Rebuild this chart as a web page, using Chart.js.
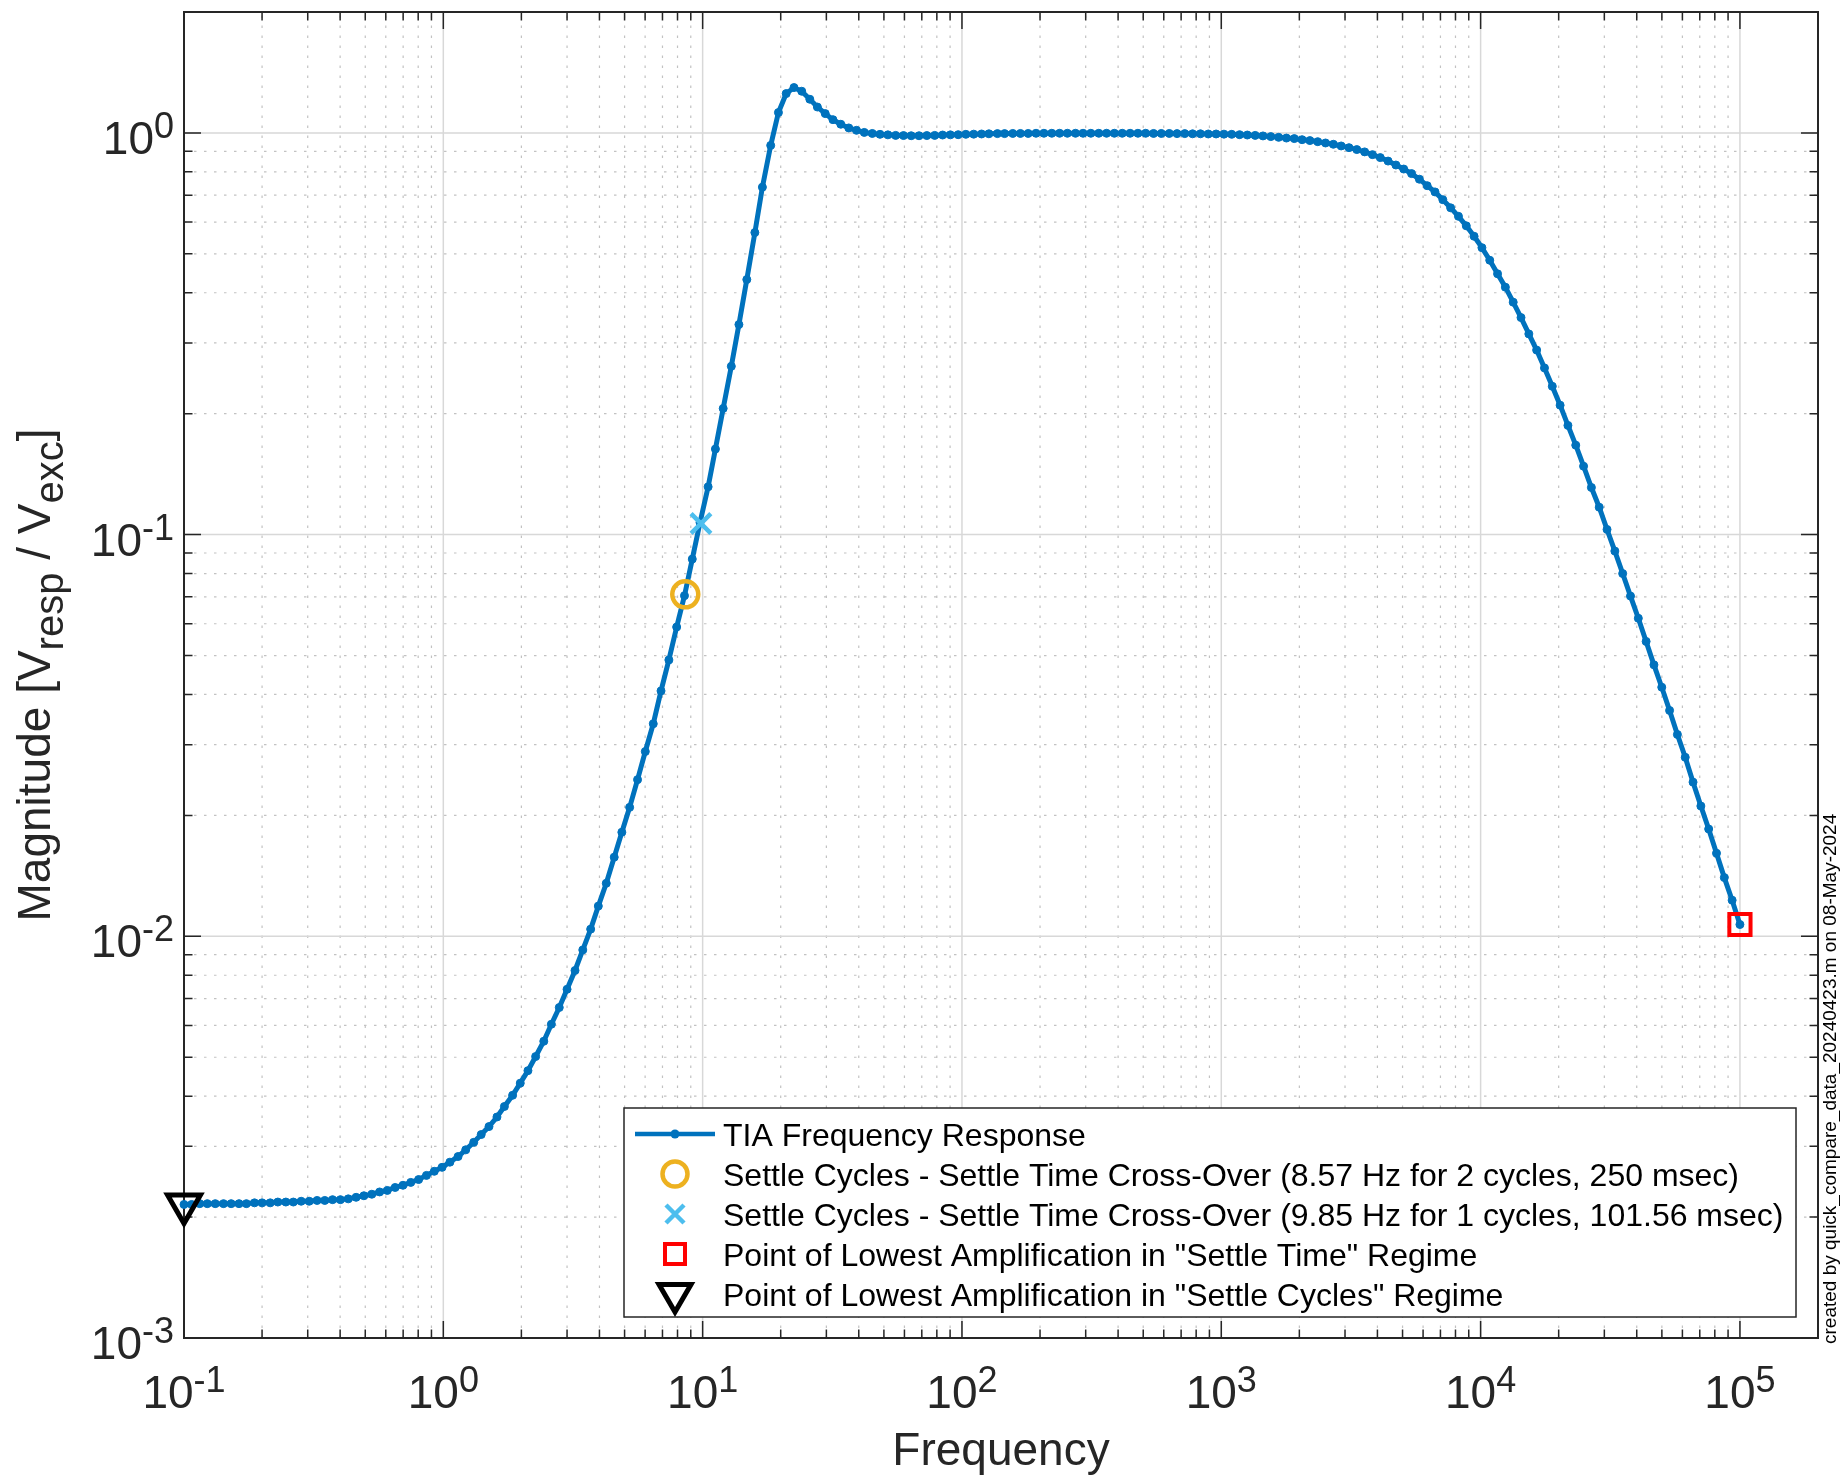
<!DOCTYPE html>
<html>
<head>
<meta charset="utf-8">
<script src="https://cdn.jsdelivr.net/npm/chart.js@4.4.1/dist/chart.umd.min.js"></script>
<style>
  body{margin:0;background:#fff;}
</style>
</head>
<body>
<canvas id="myChart" width="1840" height="1475"></canvas>
<script>
// frequency grid (Hz)
const freq=[
  0.1,0.107,0.115,0.123,0.132,0.142,0.152,0.163,0.174,0.187,
  0.2,0.215,0.23,0.247,0.264,0.283,0.304,0.326,0.349,0.374,
  0.401,0.43,0.461,0.494,0.53,0.568,0.608,0.652,0.699,0.749,
  0.803,0.861,0.923,0.989,1.06,1.14,1.22,1.31,1.4,1.5,
  1.61,1.72,1.85,1.98,2.12,2.27,2.44,2.61,2.8,3.0,
  3.22,3.45,3.7,3.96,4.25,4.56,4.88,5.23,5.61,6.01,
  6.45,6.91,7.41,7.94,8.51,9.12,9.77,10.5,11.2,12.0,
  12.9,13.8,14.8,15.9,17.0,18.3,19.6,21.0,22.5,24.1,
  25.9,27.7,29.7,31.8,34.1,36.6,39.2,42.0,45.1,48.3,
  51.8,55.5,59.5,63.7,68.3,73.2,78.5,84.2,90.2,96.7,
  103.5,111,119,127,137,146,157,168,180,193,
  207,222,238,255,274,293,314,337,361,387,
  415,445,477,511,548,587,630,675,723,775,
  831,891,955,1024,1097,1176,1260,1351,1448,1552,
  1664,1783,1912,2049,2196,2354,2523,2705,2899,3108,
  3331,3571,3827,4102,4397,4713,5052,5416,5805,6222,
  6670,7149,7663,8214,8805,9438,10117,10844,11623,12459,
  13355,14315,15344,16447,17630,18898,20257,21713,23274,24948,
  26742,28665,30726,32935,35303,37842,40563,43473,46599,49950,
  53541,57391,61518,65941,70683,75765,81213,87045,93304,100000
];
// magnitude Vresp/Vexc
const magnitude=[
  0.00215,0.00215,0.00216,0.00216,0.00216,0.00216,0.00216,0.00216,0.00216,0.00217,
  0.00217,0.00217,0.00218,0.00218,0.00218,0.00219,0.00219,0.00220,0.00220,0.00221,
  0.00221,0.00222,0.00224,0.00226,0.00228,0.00231,0.00233,0.00237,0.00240,0.00244,
  0.00248,0.00254,0.00260,0.00266,0.00274,0.00283,0.00294,0.00307,0.00321,0.00336,
  0.00355,0.00377,0.00402,0.00431,0.00463,0.00502,0.00548,0.00604,0.00665,0.00738,
  0.00822,0.00925,0.01042,0.01189,0.01355,0.01574,0.01816,0.02094,0.02455,0.02884,
  0.03381,0.04083,0.04875,0.05888,0.07047,0.0869,0.1072,0.1315,0.1633,0.2061,
  0.2624,0.3334,0.4315,0.5649,0.7328,0.9311,1.124,1.253,1.297,1.270,
  1.213,1.160,1.117,1.079,1.051,1.029,1.015,1.003,0.997,0.992,
  0.989,0.986,0.985,0.984,0.984,0.985,0.986,0.988,0.989,0.990,
  0.992,0.993,0.994,0.995,0.996,0.996,0.997,0.997,0.997,0.998,
  0.998,0.998,0.998,0.998,0.998,0.998,0.998,0.998,0.998,0.998,
  0.998,0.998,0.998,0.998,0.997,0.997,0.997,0.996,0.996,0.995,
  0.995,0.994,0.994,0.993,0.992,0.990,0.988,0.986,0.983,0.979,
  0.975,0.971,0.968,0.962,0.957,0.951,0.944,0.937,0.928,0.919,
  0.909,0.897,0.883,0.868,0.851,0.832,0.813,0.792,0.767,0.739,
  0.713,0.682,0.651,0.620,0.587,0.553,0.518,0.482,0.446,0.413,
  0.379,0.347,0.316,0.288,0.260,0.234,0.210,0.187,0.167,0.148,
  0.131,0.117,0.103,0.0910,0.0800,0.0703,0.0619,0.0542,0.0474,0.0417,
  0.0365,0.0318,0.0279,0.0242,0.0211,0.0185,0.0161,0.0140,0.0123,0.0107
];
// special points
const crossOver2=[8.57,0.0710];
const crossOver1=[9.85,0.1066];
const lowestTime=[100000,0.0107];
const lowestCycles=[0.1,0.00215];

const xTickExp=[-1,0,1,2,3,4,5];
const yTickExp=[-3,-2,-1,0];
const legendLabels=[
  'TIA Frequency Response',
  'Settle Cycles - Settle Time Cross-Over (8.57 Hz for 2 cycles, 250 msec)',
  'Settle Cycles - Settle Time Cross-Over (9.85 Hz for 1 cycles, 101.56 msec)',
  'Point of Lowest Amplification in "Settle Time" Regime',
  'Point of Lowest Amplification in "Settle Cycles" Regime'
];
const noteText='created by quick_compare_data_20240423.m on 08-May-2024';

const fontFam='"Liberation Sans", Arial, Helvetica, sans-serif';
const tickFont=46, supFont=36, supRaise=16, labelFont=46, subFont=40, legendFont=32;
const axisColor='#262626';

function drawPow(ctx,exp,x,yBase,align){
  const e=String(exp);
  ctx.font=tickFont+'px '+fontFam;
  const w1=ctx.measureText('10').width;
  ctx.font=supFont+'px '+fontFam;
  const w2=ctx.measureText(e).width;
  const x0 = align==='center' ? x-(w1+w2)/2 : x-(w1+w2);
  ctx.textAlign='left';
  ctx.textBaseline='alphabetic';
  ctx.font=tickFont+'px '+fontFam;
  ctx.fillText('10',x0,yBase);
  ctx.font=supFont+'px '+fontFam;
  ctx.fillText(e,x0+w1,yBase-supRaise);
}

function drawMarker(ctx,style,x,y){
  ctx.save();
  ctx.beginPath();
  if(style==='dotline'){
    ctx.strokeStyle='#0072BD'; ctx.lineWidth=4.5;
    ctx.moveTo(x-40,y); ctx.lineTo(x+40,y); ctx.stroke();
    ctx.beginPath(); ctx.fillStyle='#0072BD'; ctx.arc(x,y,4.5,0,Math.PI*2); ctx.fill();
  } else if(style==='circle'){
    ctx.strokeStyle='#EDB120'; ctx.lineWidth=4.5;
    ctx.arc(x,y,12.5,0,Math.PI*2); ctx.stroke();
  } else if(style==='cross'){
    ctx.strokeStyle='#4DBEEE'; ctx.lineWidth=4.5;
    ctx.moveTo(x-9,y-9); ctx.lineTo(x+9,y+9); ctx.moveTo(x+9,y-9); ctx.lineTo(x-9,y+9); ctx.stroke();
  } else if(style==='square'){
    ctx.strokeStyle='#FF0000'; ctx.lineWidth=4;
    ctx.strokeRect(x-10,y-10,20,20);
  } else if(style==='tri'){
    ctx.strokeStyle='#000'; ctx.lineWidth=5; ctx.lineJoin='miter';
    ctx.moveTo(x-16,y-9.5); ctx.lineTo(x+16,y-9.5); ctx.lineTo(x,y+18); ctx.closePath(); ctx.stroke();
  }
  ctx.restore();
}

const matlabAxes={
  id:'matlabAxes',
  beforeDatasetsDraw(chart){
    const {ctx,chartArea:a,scales:{x,y}}=chart;
    ctx.save();
    const xMinor=[],xMajor=[],yMinor=[],yMajor=[];
    for(let n=-1;n<=5;n++){
      xMajor.push(x.getPixelForValue(Math.pow(10,n)));
      for(let k=2;k<=9;k++){ const v=k*Math.pow(10,n); if(v<x.max) xMinor.push(x.getPixelForValue(v)); }
    }
    for(let n=-3;n<=0;n++){
      yMajor.push(y.getPixelForValue(Math.pow(10,n)));
      for(let k=2;k<=9;k++){ const v=k*Math.pow(10,n); if(v<y.max) yMinor.push(y.getPixelForValue(v)); }
    }
    // minor grid, dotted
    ctx.strokeStyle='#c2c2c2'; ctx.lineWidth=1.2; ctx.setLineDash([2.5,7.5]);
    ctx.beginPath();
    xMinor.forEach(px=>{ ctx.moveTo(px,a.bottom); ctx.lineTo(px,a.top); });
    yMinor.forEach(py=>{ ctx.moveTo(a.left,py); ctx.lineTo(a.right,py); });
    ctx.stroke();
    // major grid
    ctx.setLineDash([]); ctx.strokeStyle='#d8d8d8'; ctx.lineWidth=1.5;
    ctx.beginPath();
    xMajor.forEach(px=>{ ctx.moveTo(px,a.bottom); ctx.lineTo(px,a.top); });
    yMajor.forEach(py=>{ ctx.moveTo(a.left,py); ctx.lineTo(a.right,py); });
    ctx.stroke();
    // box
    ctx.strokeStyle=axisColor; ctx.lineWidth=2;
    ctx.strokeRect(a.left,a.top,a.width,a.height);
    // ticks, inward on all four sides
    const major=17, minor=8.5;
    ctx.lineWidth=1.5;
    ctx.beginPath();
    xMajor.forEach(px=>{ ctx.moveTo(px,a.bottom); ctx.lineTo(px,a.bottom-major); ctx.moveTo(px,a.top); ctx.lineTo(px,a.top+major); });
    xMinor.forEach(px=>{ ctx.moveTo(px,a.bottom); ctx.lineTo(px,a.bottom-minor); ctx.moveTo(px,a.top); ctx.lineTo(px,a.top+minor); });
    yMajor.forEach(py=>{ ctx.moveTo(a.left,py); ctx.lineTo(a.left+major,py); ctx.moveTo(a.right,py); ctx.lineTo(a.right-major,py); });
    yMinor.forEach(py=>{ ctx.moveTo(a.left,py); ctx.lineTo(a.left+minor,py); ctx.moveTo(a.right,py); ctx.lineTo(a.right-minor,py); });
    ctx.stroke();
    ctx.restore();
  },
  afterDraw(chart){
    const {ctx,chartArea:a,scales:{x,y}}=chart;
    ctx.save();
    ctx.fillStyle=axisColor;
    // tick labels
    xTickExp.forEach(n=>drawPow(ctx,n,x.getPixelForValue(Math.pow(10,n)),1408,'center'));
    yTickExp.forEach(n=>drawPow(ctx,n,a.left-10,y.getPixelForValue(Math.pow(10,n))+21,'right'));
    // x label
    ctx.font=labelFont+'px '+fontFam;
    ctx.textAlign='center'; ctx.textBaseline='alphabetic';
    ctx.fillText('Frequency',(a.left+a.right)/2,1465);
    // y label with subscripts
    const parts=[['Magnitude [V',0],['resp',1],[' / V',0],['exc',1],[']',0]];
    let total=0;
    parts.forEach(p=>{ ctx.font=(p[1]?subFont:labelFont)+'px '+fontFam; total+=ctx.measureText(p[0]).width; });
    ctx.save();
    ctx.translate(50,(a.top+a.bottom)/2);
    ctx.rotate(-Math.PI/2);
    ctx.textAlign='left';
    let cx=-total/2;
    parts.forEach(p=>{
      ctx.font=(p[1]?subFont:labelFont)+'px '+fontFam;
      ctx.fillText(p[0],cx,p[1]?13:0);
      cx+=ctx.measureText(p[0]).width;
    });
    ctx.restore();
    // legend
    const L={left:624,top:1108,right:1796,bottom:1317};
    ctx.fillStyle='#fff';
    ctx.fillRect(L.left,L.top,L.right-L.left,L.bottom-L.top);
    ctx.strokeStyle=axisColor; ctx.lineWidth=1.5;
    ctx.strokeRect(L.left,L.top,L.right-L.left,L.bottom-L.top);
    const styles=['dotline','circle','cross','square','tri'];
    ctx.font=legendFont+'px '+fontFam;
    ctx.textAlign='left'; ctx.textBaseline='alphabetic';
    legendLabels.forEach((t,i)=>{
      const cy=1134+i*40;
      drawMarker(ctx,styles[i],675,cy);
      ctx.fillStyle='#000';
      ctx.fillText(t,723,cy+11.5);
    });
    // side note
    ctx.save();
    ctx.translate(1836,1344);
    ctx.rotate(-Math.PI/2);
    ctx.font='19px '+fontFam;
    ctx.fillStyle='#000';
    ctx.textAlign='left'; ctx.textBaseline='alphabetic';
    ctx.fillText(noteText,0,0);
    ctx.restore();
    ctx.restore();
  }
};

const ctx=document.getElementById('myChart');
new Chart(ctx,{
  type:'scatter',
  data:{
    datasets:[
      {
        label:legendLabels[0],
        data:freq.map((f,i)=>({x:f,y:magnitude[i]})),
        showLine:true,
        borderColor:'#0072BD',
        backgroundColor:'#0072BD',
        borderWidth:5,
        pointRadius:4,
        pointBorderWidth:1,
        pointHoverRadius:4,
        order:5,
        clip:false
      },
      {
        label:legendLabels[1],
        data:[{x:crossOver2[0],y:crossOver2[1]}],
        pointStyle:'circle',
        pointRadius:13,
        borderColor:'#EDB120',
        backgroundColor:'rgba(0,0,0,0)',
        borderWidth:4.5,
        order:1,
        clip:false
      },
      {
        label:legendLabels[2],
        data:[{x:crossOver1[0],y:crossOver1[1]}],
        pointStyle:'crossRot',
        pointRadius:14,
        borderColor:'#4DBEEE',
        backgroundColor:'#4DBEEE',
        borderWidth:4.5,
        order:2,
        clip:false
      },
      {
        label:legendLabels[3],
        data:[{x:lowestTime[0],y:lowestTime[1]}],
        pointStyle:'rect',
        pointRadius:15,
        borderColor:'#FF0000',
        backgroundColor:'rgba(0,0,0,0)',
        borderWidth:4,
        order:3,
        clip:false
      },
      {
        label:legendLabels[4],
        data:[{x:lowestCycles[0],y:lowestCycles[1]}],
        pointStyle:'triangle',
        rotation:180,
        pointRadius:19,
        borderColor:'#000000',
        backgroundColor:'rgba(0,0,0,0)',
        borderWidth:5,
        order:4,
        clip:false
      }
    ]
  },
  options:{
    responsive:false,
    animation:false,
    devicePixelRatio:1,
    events:[],
    layout:{autoPadding:false,padding:{left:184,top:12,right:22,bottom:137}},
    plugins:{legend:{display:false},tooltip:{enabled:false}},
    scales:{
      x:{type:'logarithmic',min:0.1,max:200000,display:false},
      y:{type:'logarithmic',min:0.001,max:2,display:false}
    }
  },
  plugins:[matlabAxes]
});
</script>
</body>
</html>
